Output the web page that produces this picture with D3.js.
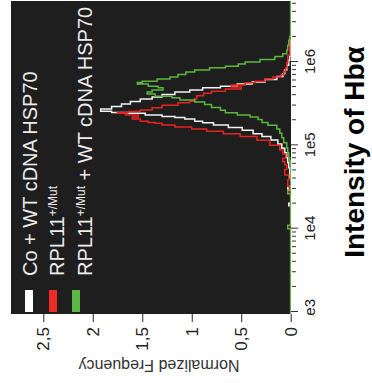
<!DOCTYPE html>
<html><head><meta charset="utf-8">
<script src="https://cdn.jsdelivr.net/npm/d3@7"></script>
<style>
html,body{margin:0;padding:0;background:#fff;}
svg{display:block;font-family:"Liberation Sans",Arial,Helvetica,sans-serif;}
</style></head>
<body><svg id="c" width="372" height="383"></svg>
<script>
// ---- data (x: log10 intensity of Hbα, y: normalized frequency) ----
const seriesNames = ["Co + WT cDNA HSP70", "RPL11", "RPL11"];
const seriesSup = ["", "+/Mut", "+/Mut"];
const seriesTail = ["", "", " + WT cDNA HSP70"];
const seriesColors = ["#f4f4f4", "#e8231f", "#5cb53c"];
const swatchColors = ["#ffffff", "#ee2b24", "#5cb845"];
const freqTicks = [0, 0.5, 1, 1.5, 2, 2.5];
const freqTickLabels = ["0", "0,5", "1", "1,5", "2", "2,5"];
const intensityMajor = [1e3, 1e4, 1e5, 1e6];
const intensityMajorLabels = ["1e3", "1e4", "1e5", "1e6"];

const coWtCurve = [[2.97,0],[4.26,0],[4.29,0.02],[4.32,0],[4.46,0],[4.49,0.03],[4.52,0],[4.70,0.01],[4.76,0.02],[4.82,0.03],[4.88,0.04],[4.94,0.06],[4.99,0.09],[5.04,0.13],[5.09,0.20],[5.12,0.29],[5.16,0.38],[5.20,0.49],[5.23,0.63],[5.26,0.78],[5.28,0.89],[5.30,0.97],[5.33,1.07],[5.34,1.17],[5.35,1.30],[5.38,1.47],[5.39,1.64],[5.40,1.81],[5.42,1.92],[5.45,1.81],[5.48,1.71],[5.51,1.62],[5.54,1.52],[5.57,1.40],[5.59,1.30],[5.63,1.17],[5.65,1.02],[5.68,0.89],[5.70,0.71],[5.72,0.54],[5.75,0.39],[5.77,0.26],[5.81,0.14],[5.84,0.08],[5.88,0.06],[5.93,0.04],[5.99,0.02],[6.05,0.01],[6.10,0],[6.75,0]];
const mutCurve = [[2.97,0],[4.42,0],[4.46,0.01],[4.55,0.03],[4.61,0.02],[4.68,0.06],[4.74,0.04],[4.79,0.06],[4.82,0.08],[4.87,0.05],[4.92,0.08],[4.97,0.11],[5.03,0.21],[5.09,0.34],[5.12,0.51],[5.16,0.68],[5.18,0.85],[5.21,1.00],[5.23,1.17],[5.26,1.30],[5.27,1.37],[5.28,1.44],[5.30,1.52],[5.33,1.60],[5.35,1.54],[5.38,1.67],[5.39,1.75],[5.40,1.64],[5.41,1.52],[5.44,1.40],[5.46,1.30],[5.50,1.14],[5.52,1.02],[5.54,0.97],[5.58,0.95],[5.61,0.88],[5.64,0.80],[5.66,0.66],[5.69,0.50],[5.71,0.60],[5.74,0.46],[5.76,0.36],[5.78,0.26],[5.81,0.18],[5.83,0.10],[5.87,0.07],[5.90,0.05],[5.96,0.04],[6.02,0.03],[6.14,0.01],[6.26,0.01],[6.30,0],[6.75,0]];
const mutWtCurve = [[2.97,0],[3.98,0],[4.02,0.03],[4.06,0],[4.40,0],[4.44,0.03],[4.48,0],[4.80,0],[4.82,0.01],[4.88,0.02],[4.94,0.03],[5.00,0.04],[5.06,0.07],[5.12,0.09],[5.17,0.11],[5.22,0.14],[5.26,0.23],[5.29,0.29],[5.33,0.33],[5.35,0.41],[5.38,0.54],[5.40,0.66],[5.44,0.71],[5.47,0.80],[5.51,0.87],[5.53,0.97],[5.56,1.12],[5.58,1.20],[5.60,1.37],[5.63,1.45],[5.65,1.40],[5.68,1.29],[5.70,1.34],[5.72,1.44],[5.75,1.55],[5.76,1.50],[5.78,1.35],[5.81,1.22],[5.83,1.14],[5.87,1.06],[5.89,0.97],[5.92,0.82],[5.94,0.66],[5.96,0.53],[5.99,0.46],[6.01,0.31],[6.05,0.16],[6.08,0.08],[6.12,0.04],[6.17,0.03],[6.23,0.02],[6.29,0.01],[6.32,0],[6.75,0]];
const curves = [coWtCurve, mutCurve, mutWtCurve];

// ---- layout (chart drawn upright, then rotated -90deg) ----
const W = 383, H = 372;
const plot = {x0: 69, x1: 382, y0: 11, y1: 291};
const svg = d3.select("#c");
const g = svg.append("g").attr("transform", `translate(0,${W}) rotate(-90)`);

const x = d3.scaleLog().domain([1e3, 1e6]).range([71, 321]);
const xFull = x.copy().domain([x.invert(plot.x0), x.invert(plot.x1)]).range([plot.x0, plot.x1]);
const y = d3.scaleLinear().domain([0, 2.5]).range([290.7, 43.3]);

const defs = g.append("defs");
defs.append("clipPath").attr("id","pc").append("rect")
  .attr("x", plot.x0).attr("y", plot.y0).attr("width", plot.x1-plot.x0).attr("height", plot.y1-plot.y0);
defs.append("clipPath").attr("id","lc").append("rect")
  .attr("x", 66.5).attr("y", plot.y1).attr("width", 320).attr("height", 40);

g.append("rect").attr("x", plot.x0).attr("y", plot.y0).attr("width", plot.x1-plot.x0).attr("height", plot.y1-plot.y0)
  .attr("fill", "#1e1e1e");

// curves
const line = d3.line().x(d => x(Math.pow(10, d[0]))).y(d => y(d[1])).curve(d3.curveStep);
const cg = g.append("g").attr("clip-path", "url(#pc)");
curves.forEach((c, i) => {
  cg.append("path").attr("d", line(c)).attr("fill", "none")
    .attr("stroke", seriesColors[i]).attr("stroke-width", 1.5).attr("stroke-linejoin", "miter");
});

// legend
seriesNames.forEach((n, i) => {
  const sy = [25, 49, 72][i];
  const by = [37, 63.5, 91.5][i];
  g.append("rect").attr("x", 71).attr("y", sy).attr("width", 22).attr("height", 8).attr("fill", swatchColors[i]);
  const t = g.append("text").attr("x", 107).attr("y", by).attr("fill", "#ececec").attr("font-size", 20);
  t.append("tspan").text(n);
  if (seriesSup[i]) t.append("tspan").attr("font-size", 12).attr("dy", -7).text(seriesSup[i]);
  if (seriesTail[i]) t.append("tspan").attr("dy", 7).text(seriesTail[i]);
});

// frequency axis (left in upright frame)
const ya = g.append("g").attr("transform", `translate(${plot.x0},0)`)
  .call(d3.axisLeft(y).tickValues(freqTicks).tickFormat((d, i) => freqTickLabels[i]).tickSize(8).tickSizeOuter(0).tickPadding(5));
ya.select(".domain").remove();
ya.selectAll("line").attr("stroke", "#222");
ya.selectAll("text").attr("font-size", 17).attr("fill", "#222").attr("font-family", "Liberation Sans, Arial, sans-serif");

// intensity axis (bottom in upright frame)
const allTicks = xFull.ticks().filter(v => v >= 1e3);
const labelClip = g.append("g").attr("clip-path", "url(#lc)");
const xa = labelClip.append("g").attr("transform", `translate(0,${plot.y1})`)
  .call(d3.axisBottom(x).tickValues(allTicks)
    .tickFormat(v => { const k = intensityMajor.indexOf(v); return k >= 0 ? intensityMajorLabels[k] : ""; })
    .tickSize(5).tickSizeOuter(0).tickPadding(8));
xa.select(".domain").remove();
xa.selectAll(".tick").each(function(v) {
  const major = intensityMajor.indexOf(v) >= 0;
  d3.select(this).select("line").attr("y1", major ? 0 : 1).attr("y2", major ? 7 : 5).attr("stroke", "#333");
});
xa.selectAll("text").attr("font-size", 15).attr("fill", "#222").attr("font-family", "Liberation Sans, Arial, sans-serif");

// axis titles
g.append("text").attr("x", 231).attr("y", 364).attr("text-anchor", "middle")
  .attr("font-size", 28).attr("font-weight", "bold").attr("fill", "#000").text("Intensity of Hbα");
g.append("text").attr("transform", "translate(23,159) rotate(-90)").attr("text-anchor", "middle")
  .attr("font-size", 16).attr("fill", "#333").text("Normalized Frequency");
</script></body></html>
